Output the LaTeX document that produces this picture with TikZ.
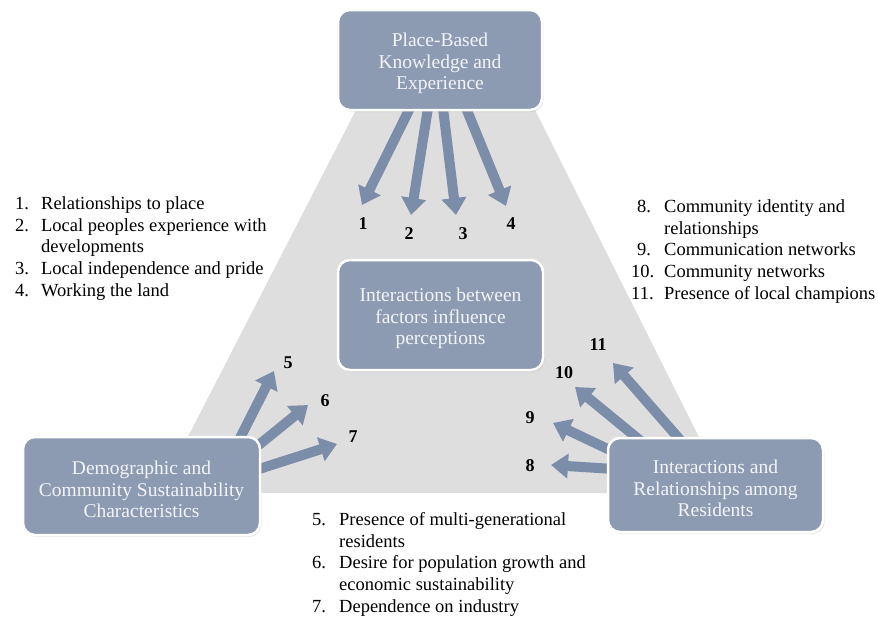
\documentclass[tikz,border=0pt]{standalone}
\usepackage{fontspec}
\setmainfont{Liberation Serif}
\usetikzlibrary{arrows.meta,shadows}
\pgfdeclarelayer{back}
\pgfdeclarelayer{mid}
\pgfsetlayers{back,mid,main}
\definecolor{boxfill}{RGB}{141,155,178}
\definecolor{arrowc}{RGB}{124,141,170}
\definecolor{tri}{RGB}{222,222,222}
\definecolor{boxtext}{RGB}{242,244,248}
\newcommand{\topstrut}{\rule{0pt}{21pt}}
\begin{document}
\begin{tikzpicture}[x=1pt,y=-1pt,
  factor/.style={draw=white, line width=2.5pt, fill=boxfill, rounded corners=12pt,
    text=boxtext, align=center, font=\fontsize{19.5}{21.5}\selectfont, inner sep=0pt,
    drop shadow={opacity=0.18, shadow xshift=1.5pt, shadow yshift=-2pt}},
  bigarrow/.style={draw=arrowc, line width=10pt, -{Triangle[width=24pt,length=17pt]}},
  numlabel/.style={font=\fontsize{18}{20}\selectfont\bfseries, inner sep=0pt},
  listtext/.style={anchor=north west, inner sep=0pt, font=\fontsize{18.5}{21.7}\selectfont, align=left}]
\useasboundingbox (0,0) rectangle (878,619);

% boxes
\node[factor, minimum width=204pt, minimum height=100pt] (top) at (440,60)
  {\topstrut Place-Based\\Knowledge and\\Experience};
\node[factor, minimum width=205pt, minimum height=110pt] (center) at (440.5,315)
  {\topstrut Interactions between\\factors influence\\perceptions};
\node[factor, minimum width=237pt, minimum height=98pt] (left) at (141.5,486)
  {\topstrut Demographic and\\Community Sustainability\\Characteristics};
\node[factor, minimum width=215pt, minimum height=94pt] (right) at (715.5,485)
  {\topstrut Interactions and\\Relationships among\\Residents};

% number labels
\node[numlabel] (n1) at (363,224) {1};
\node[numlabel] (n2) at (409,234) {2};
\node[numlabel] (n3) at (463,234) {3};
\node[numlabel] (n4) at (511,224) {4};
\node[numlabel] (n5) at (288,363) {5};
\node[numlabel] (n6) at (325,401) {6};
\node[numlabel] (n7) at (353,437) {7};
\node[numlabel] (n8) at (530,466) {8};
\node[numlabel] (n9) at (530,418) {9};
\node[numlabel] (n10) at (564,373) {10};
\node[numlabel] (n11) at (598,345) {11};

% lists
\node[listtext] (listA) at (15,194) {\begin{tabular}{@{}p{26pt}@{}l@{}}
1. & Relationships to place\\
2. & Local peoples experience with\\
   & developments\\
3. & Local independence and pride\\
4. & Working the land
\end{tabular}};
\node[listtext] (listB) at (637,197) {\begin{tabular}{@{}p{27pt}@{}l@{}}
8. & Community identity and\\
   & relationships\\
9. & Communication networks\\
\hspace*{-6pt}10. & Community networks\\
\hspace*{-6pt}11. & Presence of local champions
\end{tabular}};
\node[listtext] (listC) at (312,510) {\begin{tabular}{@{}p{27pt}@{}l@{}}
5. & Presence of multi-generational\\
   & residents\\
6. & Desire for population growth and\\
   & economic sustainability\\
7. & Dependence on industry
\end{tabular}};

% arrow ends
\coordinate (s1) at (410,108);  \coordinate (t1) at (362,205);
\coordinate (s2) at (428,108);  \coordinate (t2) at (411,215);
\coordinate (s3) at (443,108);  \coordinate (t3) at (456,215);
\coordinate (s4) at (466,108);  \coordinate (t4) at (506,206);
\coordinate (s5) at (238,442);  \coordinate (t5) at (274,371);
\coordinate (s6) at (255,448);  \coordinate (t6) at (308,405);
\coordinate (s7) at (256,470);  \coordinate (t7) at (337,444);
\coordinate (s8) at (614,469);  \coordinate (t8) at (551,465);
\coordinate (s9) at (614,452);  \coordinate (t9) at (553,423);
\coordinate (s10) at (642,442); \coordinate (t10) at (575,387);
\coordinate (s11) at (682,442); \coordinate (t11) at (613,363);

\begin{pgfonlayer}{back}
  \fill[tri] (357,108) -- (534,108) -- (727,493) -- (159,493) -- cycle;
\end{pgfonlayer}
\begin{pgfonlayer}{mid}
  \foreach \i in {1,...,11} {\draw[bigarrow] (s\i) -- (t\i);}
\end{pgfonlayer}
\end{tikzpicture}
\end{document}
